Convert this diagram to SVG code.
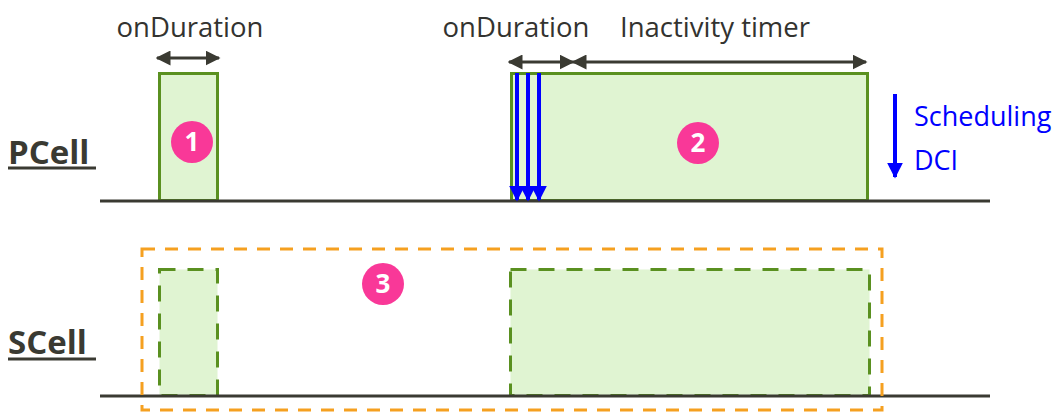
<svg xmlns="http://www.w3.org/2000/svg" width="1060" height="412" viewBox="0 0 1060 412">
  <style>
    .lbl { font-family: "Open Sans", "Liberation Sans", sans-serif; font-size: 27.5px; fill: #333330; }
    .cell { font-family: "Open Sans", "Liberation Sans", sans-serif; font-size: 33px; font-weight: bold; fill: #3a3a32; }
    .blue { font-family: "Open Sans", "Liberation Sans", sans-serif; font-size: 27px; fill: #0000ff; }
    .num { font-family: "Open Sans", "Liberation Sans", sans-serif; font-size: 26px; font-weight: bold; fill: #ffffff; }
    .axis { stroke: #3a3a32; stroke-width: 3; }
    .on { fill: #e0f4d2; stroke: #5a9020; stroke-width: 3; }
    .ondash { fill: #e0f4d2; stroke: #5a9020; stroke-width: 3; stroke-dasharray: 16 12; }
    .span { stroke: #3a3a32; stroke-width: 3; fill: none; }
    .dci { stroke: #0000ff; stroke-width: 4; fill: none; }
    .badge { fill: #f93898; }
  </style>
  <defs>
    <marker id="dk" viewBox="0 0 10 10" refX="9" refY="5" markerWidth="5" markerHeight="5" orient="auto-start-reverse" markerUnits="strokeWidth">
      <path d="M0,0 L10,5 L0,10 z" fill="#3a3a32"/>
    </marker>
    <marker id="bl" viewBox="0 0 10 10" refX="9" refY="5" markerWidth="4" markerHeight="4" orient="auto" markerUnits="strokeWidth">
      <path d="M0,0 L10,5 L0,10 z" fill="#0000ff"/>
    </marker>
  </defs>

  <!-- row labels -->
  <g id="pcell-label">
    <text class="cell" x="8" y="164">PCell</text>
    <line x1="8" y1="168" x2="96" y2="168" stroke="#3a3a32" stroke-width="3"/>
  </g>
  <g id="scell-label">
    <text class="cell" x="8" y="354">SCell</text>
    <line x1="8" y1="359" x2="96" y2="359" stroke="#3a3a32" stroke-width="3"/>
  </g>

  <!-- PCell active periods -->
  <g id="p-on1">
    <rect class="on" x="159.5" y="73.5" width="58" height="127"/>
  </g>
  <g id="p-on2">
    <rect class="on" x="511.5" y="73.5" width="356" height="127"/>
  </g>

  <!-- SCell active periods -->
  <g id="s-on1">
    <rect class="ondash" x="159.5" y="269.5" width="58" height="126"/>
  </g>
  <g id="s-on2">
    <rect class="ondash" x="510.5" y="269.5" width="359" height="126"/>
  </g>

  <!-- time axes -->
  <g id="axes">
    <line class="axis" x1="100" y1="201" x2="990" y2="201"/>
    <line class="axis" x1="100" y1="396" x2="990" y2="396"/>
  </g>

  <!-- SCell grouping frame -->
  <g id="scell-frame">
    <rect x="142" y="249" width="740" height="161" fill="none" stroke="#f5a020" stroke-width="3" stroke-dasharray="13 10"/>
  </g>

  <!-- timer spans and DCI arrows -->
  <g id="connectors">
    <line class="span" x1="157" y1="58" x2="219" y2="58" marker-start="url(#dk)" marker-end="url(#dk)"/>
    <line class="span" x1="509" y1="62" x2="573" y2="62" marker-start="url(#dk)" marker-end="url(#dk)"/>
    <line class="span" x1="573" y1="62" x2="866" y2="62" marker-start="url(#dk)" marker-end="url(#dk)"/>
    <line class="dci" x1="517" y1="73" x2="517" y2="200" marker-end="url(#bl)"/>
    <line class="dci" x1="528" y1="73" x2="528" y2="200" marker-end="url(#bl)"/>
    <line class="dci" x1="539" y1="73" x2="539" y2="200" marker-end="url(#bl)"/>
    <line class="dci" x1="895" y1="94" x2="895" y2="177" marker-end="url(#bl)"/>
  </g>

  <!-- annotations -->
  <g id="labels">
    <text class="lbl" x="190" y="37" text-anchor="middle">onDuration</text>
    <text class="lbl" x="516" y="37" text-anchor="middle">onDuration</text>
    <text class="lbl" x="715" y="37" text-anchor="middle">Inactivity timer</text>
    <text class="blue" x="914" y="126">Scheduling</text>
    <text class="blue" x="914" y="170">DCI</text>
  </g>

  <!-- numbered badges -->
  <g id="badge1">
    <circle class="badge" cx="192" cy="142" r="21"/>
    <text class="num" x="192" y="151" text-anchor="middle">1</text>
  </g>
  <g id="badge2">
    <circle class="badge" cx="698" cy="143" r="21"/>
    <text class="num" x="698" y="152" text-anchor="middle">2</text>
  </g>
  <g id="badge3">
    <circle class="badge" cx="383" cy="284" r="21"/>
    <text class="num" x="383" y="293" text-anchor="middle">3</text>
  </g>
</svg>
